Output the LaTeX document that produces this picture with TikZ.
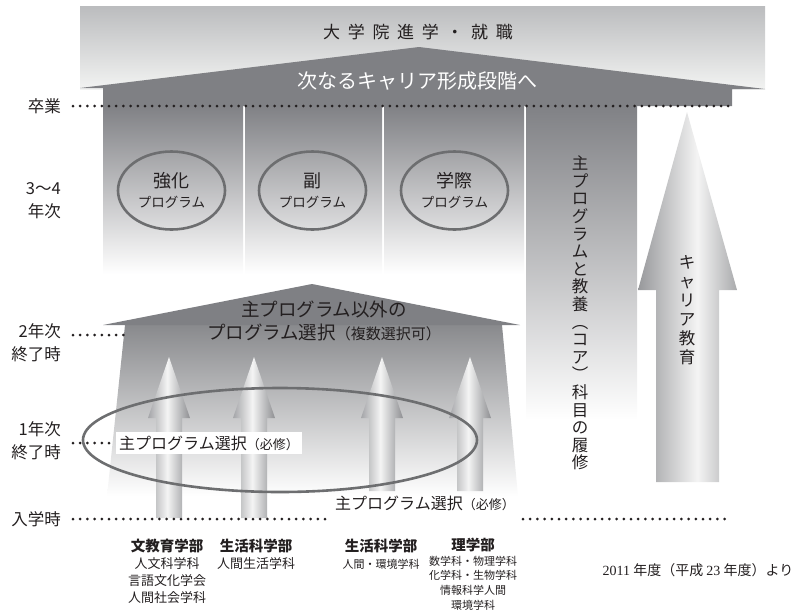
\documentclass[tikz,border=0pt]{standalone}
\usepackage{fontspec}
\setmainfont{Noto Sans CJK JP}
\newfontfamily\spacedjp[LetterSpace=45]{Noto Sans CJK JP}
\newfontfamily\serifnum{Liberation Serif}
\usetikzlibrary{shapes.geometric}
\definecolor{ink}{HTML}{231F20}
\definecolor{roofgray}{HTML}{7F8084}
\definecolor{bandtop}{HTML}{BBBCBE}
\definecolor{bandbot}{HTML}{F2F3F2}
\definecolor{colt}{HTML}{808185}
\definecolor{midt}{HTML}{898A8D}
\definecolor{ellgray}{HTML}{6D6E70}
\definecolor{arl}{HTML}{A4A5A8}
\definecolor{arm}{HTML}{F4F4F4}
\definecolor{arr}{HTML}{8E8F92}
\definecolor{carl}{HTML}{97989B}
\definecolor{carr}{HTML}{A9AAAC}
\pgfdeclarehorizontalshading{arrowsh}{100bp}{color(0bp)=(arl); color(25bp)=(arl);
  color(48bp)=(arm); color(75bp)=(arr); color(100bp)=(arr)}
\pgfdeclarehorizontalshading{careersh}{100bp}{color(0bp)=(carl); color(25bp)=(carl);
  color(55bp)=(arm); color(75bp)=(carr); color(100bp)=(carr)}
\newcommand\myfs[2]{\fontsize{#1}{#2}\selectfont}
\newcommand\mkuparrow[2]{%
  \path[shading=arrowsh] (#1-13,#2) -- (#1-13,418) -- (#1-21,418) -- (#1,357)
    -- (#1+21,418) -- (#1+13,418) -- (#1+13,#2) -- cycle;}
\tikzset{
  roof/.style={fill=roofgray},
  colfade/.style={top color=colt, bottom color=white},
  dotline/.style={draw=ink, line width=3pt, line cap=round, dash pattern=on 0pt off 7.2pt},
  progell/.style={ellipse, draw=ellgray, line width=2.6pt, minimum width=107pt,
    minimum height=78pt, inner sep=0pt, align=center, font=\myfs{13.5}{20}},
  lab/.style={align=right, anchor=east, font=\myfs{16.5}{23}},
  dept/.style={align=center, anchor=north},
}
\begin{document}
\begin{tikzpicture}[x=1pt,y=-1pt, every node/.style={text=ink, inner sep=0pt}]
\useasboundingbox (0,0) rectangle (812,614);

% top band and roof
\path[top color=bandtop, bottom color=bandbot] (80,6) rectangle (765,89);
\fill[roof] (80,88) -- (419,47) -- (765,89) -- (732,89) -- (732,106)
  -- (103,106) -- (103,88) -- cycle;

% columns
\path[colfade] (103,106) rectangle (243,274);
\path[colfade] (245,106) rectangle (382,274);
\path[colfade] (384,106) rectangle (524,274);
\path[colfade] (526,106) rectangle (637,420);

% career arrow
\path[shading=careersh]
  (656,482) -- (656,290) -- (638,290) -- (687,112) -- (737,290)
  -- (719,290) -- (719,482) -- cycle;

% middle section
\path[top color=midt, bottom color=white] (125,325) -- (502,325) -- (518,496)
  -- (107,496) -- cycle;
\fill[roof] (103,325) -- (312,284) -- (520,325) -- cycle;

% up arrows
\mkuparrow{169}{518}
\mkuparrow{254}{518}
\mkuparrow{382}{491}
\mkuparrow{470}{491}

% big ellipse
\node[ellipse, draw=ellgray, line width=2.6pt, minimum width=394pt,
  minimum height=104pt] (bigsel) at (280,440) {};

% program ellipses
\node[progell] (kyoka) at (171.5,190.5) {{\myfs{18}{20}強化}\\プログラム};
\node[progell] (fuku) at (312.5,190.5) {{\myfs{18}{20}副}\\プログラム};
\node[progell] (gakusai) at (454.5,190.5) {{\myfs{18}{20}学際}\\プログラム};

% dotted guide lines
\coordinate (g1a) at (73,106);  \coordinate (g1b) at (730,106);
\coordinate (g2a) at (73,335);  \coordinate (g2b) at (124,335);
\coordinate (g3a) at (73,443);  \coordinate (g3b) at (110,443);
\coordinate (g4a) at (73,519);  \coordinate (g4b) at (330,519);
\coordinate (g5a) at (523,519); \coordinate (g5b) at (730,519);
\draw[dotline] (g1a) -- (g1b);
\draw[dotline] (g2a) -- (g2b);
\draw[dotline] (g3a) -- (g3b);
\draw[dotline] (g4a) -- (g4b);
\draw[dotline] (g5a) -- (g5b);

% left labels
\node[lab] (sotsu) at (61,106) {卒業};
\node[lab] (y34) at (61,201) {3〜4\\年次};
\node[lab] (y2) at (61,343) {2年次\\終了時};
\node[lab] (y1) at (61,441) {1年次\\終了時};
\node[lab] (nyu) at (61,519) {入学時};

% top texts
\node[font=\spacedjp\myfs{17}{20}] (grad) at (418,32) {大学院進学・就職};
\node[font=\myfs{20}{22}, text=white] (next) at (417,81) {次なるキャリア形成段階へ};

% middle roof text
\node[align=center, font=\myfs{18.5}{23}] (other) at (324,321)
  {主プログラム以外の\\プログラム選択{\myfs{15}{23}（複数選択可）}};

% main program label (white box)
\node[fill=white, inner xsep=3pt, inner ysep=4pt, font=\myfs{16}{20}] (mainsel) at (209,443)
  {主プログラム選択{\myfs{13}{20}（必修）}};
\node[font=\myfs{16}{20}] (mainsel2) at (425,503)
  {主プログラム選択{\myfs{13}{20}（必修）}};

% vertical texts
\node[align=center, font=\myfs{16.5}{17.6}] (core) at (580,313)
  {主\\プ\\ロ\\グ\\ラ\\ム\\と\\教\\養\\︵\\コ\\ア\\︶\\科\\目\\の\\履\\修};
\node[align=center, font=\myfs{16.5}{19}] (career) at (687,310)
  {キ\\ャ\\リ\\ア\\教\\育};

% faculties
\node[dept, font=\myfs{13}{17}] (f1) at (167,539)
  {{\myfs{14.5}{17}\bfseries 文教育学部}\\人文科学科\\言語文化学会\\人間社会学科};
\node[dept, font=\myfs{13}{17}] (f2) at (256,539)
  {{\myfs{14.5}{17}\bfseries 生活科学部}\\人間生活学科};
\node[dept, font=\myfs{11}{17}] (f3) at (381,539)
  {{\myfs{14.5}{17}\bfseries 生活科学部}\\人間・環境学科};
\node[dept, font=\myfs{11}{14.6}] (f4) at (473,538)
  {{\myfs{14.5}{17}\bfseries 理学部}\\数学科・物理学科\\化学科・生物学科\\情報科学人間\\環境学科};

\node[font=\myfs{14}{17}] (since) at (698,570)
  {{\serifnum 2011} 年度（平成 {\serifnum 23} 年度）より};
\end{tikzpicture}
\end{document}
